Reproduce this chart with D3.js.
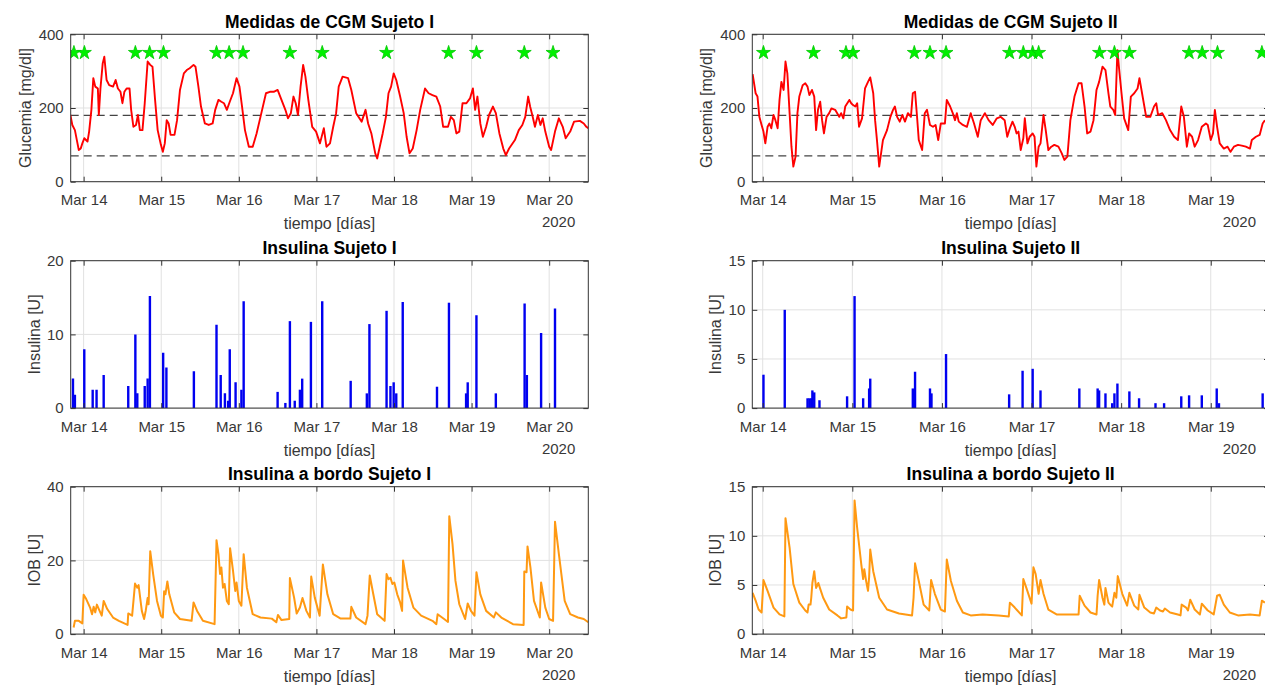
<!DOCTYPE html>
<html><head><meta charset="utf-8">
<script src="https://cdn.jsdelivr.net/npm/d3@7"></script>
<style>body{margin:0;background:#fff;overflow:hidden} text{font-family:"Liberation Sans",Arial,Helvetica,sans-serif;}</style>
</head><body><svg id="c" width="1265" height="686"></svg>
<script>
// ---- data: [hours since 2020-03-14 00:00, value] ----
const cgm1 = [[-4.1,181],[-3.5,154],[-2.7,140],[-2.1,113],[-1.5,86],[-0.9,90],[-0.4,104],[0.2,118],[1.2,109],[1.7,136],[2.4,195],[3.0,281],[3.6,258],[4.4,253],[4.7,181],[5.2,253],[5.9,321],[6.4,339],[7.1,276],[7.9,262],[9.1,258],[9.9,276],[10.6,253],[11.4,244],[12.0,213],[12.6,244],[13.3,253],[14.2,253],[14.7,195],[15.4,149],[16.2,154],[16.8,181],[17.4,140],[18.2,140],[18.9,213],[19.8,326],[20.6,317],[21.3,312],[22.1,222],[22.9,140],[23.9,100],[24.5,81],[25.1,104],[25.7,167],[26.3,158],[26.9,127],[28.1,127],[28.9,167],[29.8,249],[31.0,294],[31.9,303],[32.8,308],[34.0,317],[34.6,312],[35.5,258],[36.3,204],[37.5,158],[38.7,154],[39.9,158],[40.7,195],[41.7,222],[42.6,217],[43.4,213],[44.3,195],[45.2,217],[46.2,240],[47.3,281],[48.2,258],[49.0,204],[49.9,140],[51.1,95],[52.3,95],[53.5,131],[54.7,176],[56.4,240],[57.6,244],[58.8,244],[60.0,249],[61.2,222],[62.4,195],[63.2,172],[64.1,186],[64.9,231],[65.6,213],[66.3,181],[67.1,258],[67.9,317],[68.6,285],[69.5,222],[70.7,149],[71.9,136],[73.1,104],[74.3,145],[75.1,95],[76.2,104],[77.2,149],[78.1,186],[78.9,258],[80.1,285],[81.8,281],[82.8,249],[84.3,186],[86.0,163],[87.2,195],[88.0,158],[89.0,131],[90.2,77],[90.8,63],[91.6,95],[92.5,131],[93.5,176],[94.3,240],[95.1,258],[95.9,294],[96.7,276],[97.9,231],[99.0,186],[99.9,122],[100.8,77],[101.8,90],[103.0,140],[104.1,195],[105.6,253],[106.7,240],[107.9,235],[109.1,231],[110.3,204],[111.2,149],[112.7,149],[113.6,176],[114.5,167],[115.3,131],[116.2,136],[117.2,213],[118.4,213],[119.5,226],[120.4,253],[121.1,195],[121.8,231],[122.7,158],[123.5,122],[124.5,149],[125.4,181],[126.6,204],[127.5,186],[128.6,131],[129.8,90],[130.6,72],[131.6,90],[133.4,113],[134.6,140],[135.7,154],[136.6,176],[137.5,231],[138.1,204],[138.9,176],[139.6,149],[140.5,181],[141.3,154],[142.0,172],[142.8,136],[144.0,95],[144.6,86],[145.8,136],[147.0,172],[148.2,149],[149.1,118],[150.5,136],[151.7,163],[153.5,165],[154.7,158],[155.5,149],[156.1,145]];
const meals1 = [-3.0,0.24,16.0,20.4,24.7,41.1,45.0,49.3,63.8,73.8,93.7,112.9,121.5,136.3,145.2];
const ins1 = [[-3.3,4],[-2.7,1.8],[0.2,8],[2.8,2.5],[4.0,2.5],[6.2,4.5],[13.8,3],[16.0,10],[16.6,2],[18.9,3],[19.8,4],[20.5,15.2],[24.6,7.5],[25.6,5.5],[34.1,5],[41.1,11.3],[42.4,4.5],[43.7,2],[44.7,1],[45.2,8],[47.0,3.5],[48.8,2.5],[49.5,14.5],[60.0,2.2],[62.4,0.7],[63.8,11.8],[65.3,1],[66.9,2.5],[67.6,4],[70.3,11.7],[73.8,14.5],[82.6,3.7],[87.6,2],[88.4,11.4],[93.7,13.2],[94.9,3],[95.9,3.5],[96.7,2],[98.7,14.4],[109.3,2.9],[113.0,14.3],[118.3,2],[118.8,3.5],[121.5,12.6],[127.5,2],[136.4,14.2],[137.1,4.5],[141.5,10.2],[145.8,13.5]];
const iob1 = [[-3.1,1.8],[-2.7,3.6],[-1.5,3.6],[-0.4,2.9],[0,10.7],[0.8,9.5],[2.0,7.2],[2.6,5.4],[3.1,7.4],[3.6,5.9],[4.1,8],[4.7,6.8],[5.6,5.0],[6.2,9.0],[7.3,6.8],[9.1,4.5],[10.9,3.6],[13.6,2.5],[13.8,5.6],[15.0,5.0],[15.9,13.7],[16.6,12.6],[17.0,13.3],[18.0,6.3],[18.7,4.1],[19.2,6.3],[19.8,9.8],[20.1,8.1],[20.6,22.5],[21.5,16.3],[22.7,9.0],[23.9,5.0],[24.5,4.5],[24.9,11.6],[25.3,10.8],[25.9,14.3],[26.5,10.8],[28.0,5.9],[29.8,4.1],[33.4,3.6],[34.0,8.6],[35.1,6.3],[36.9,3.6],[40.5,2.7],[41.1,25.5],[41.7,21.7],[42.2,16.3],[42.6,18.1],[43.1,12.6],[43.6,13.6],[44.3,9.0],[44.9,8.1],[45.3,23.3],[46.2,17.2],[46.9,11.7],[47.3,14.0],[48.0,9.0],[48.8,7.7],[49.5,21.7],[50.5,12.6],[52.3,5.4],[54.7,4.5],[58.2,4.2],[59.6,3.2],[60.1,5.2],[61.2,3.8],[63.6,4.1],[63.8,15.2],[65.1,9.9],[65.9,5.6],[66.9,7.2],[67.7,9.8],[68.9,6.3],[70.0,4.5],[70.4,15.6],[71.5,9.9],[73.0,5.0],[74.0,18.9],[75.4,10.8],[77.2,5.4],[79.5,4.2],[82.5,4.2],[82.8,7.4],[84.3,4.5],[87.2,2.7],[87.8,5.0],[88.5,15.9],[89.6,10.8],[90.8,5.4],[93.1,3.6],[93.7,16.3],[94.3,14.9],[94.9,15.3],[95.5,13.6],[96.1,14],[97.0,10.8],[97.9,8.6],[98.5,6.3],[98.8,20],[100.2,12.6],[102.0,7.2],[104.4,5.0],[107.9,3.6],[109.1,2.7],[109.5,5.4],[111.5,4.1],[112.7,3.3],[113.1,32],[114.1,24.4],[115.0,14.5],[116.2,8.1],[118.0,4.1],[118.8,8.3],[119.8,6.3],[120.9,5.0],[121.5,16.8],[122.7,10.8],[124.5,6.3],[126.9,4.5],[127.5,5.9],[129.2,4.5],[132.8,2.7],[136.1,2.5],[136.3,17],[137.0,16.8],[137.3,23.8],[138.2,18.1],[139.3,9.0],[141.1,4.5],[141.5,14.0],[142.8,7.2],[144.0,4.1],[145.2,3.6],[145.8,30.5],[147.0,21.7],[148.8,9.0],[150.5,5.4],[152.9,4.5],[154.7,4.1],[156.1,3.2]];

const cgm2 = [[-2.7,292],[-1.9,240],[-1.4,231],[-0.9,176],[-0.3,154],[0.2,136],[0.7,104],[1.3,149],[1.8,158],[2.3,145],[2.9,181],[3.4,167],[4.0,145],[4.5,222],[5.0,271],[5.6,249],[6.1,326],[6.6,294],[7.2,186],[7.7,95],[8.2,41],[8.8,68],[9.3,186],[9.8,231],[10.7,262],[11.4,267],[12.0,258],[12.5,235],[13.2,249],[13.8,231],[14.3,140],[14.8,195],[15.4,217],[15.9,167],[16.4,131],[17.1,176],[17.8,186],[18.4,199],[19.4,195],[20.5,176],[21.0,186],[21.6,172],[22.1,204],[23.2,222],[23.7,213],[24.2,208],[24.8,204],[25.3,213],[25.8,149],[26.6,172],[27.4,253],[28.2,271],[28.8,283],[29.6,240],[30.1,167],[30.6,113],[31.2,41],[31.7,77],[32.2,113],[33.3,140],[34.2,176],[34.9,195],[35.4,204],[36.0,176],[36.7,163],[37.4,181],[38.1,163],[38.9,186],[39.7,176],[40.2,240],[40.8,244],[41.3,181],[41.8,113],[42.7,86],[43.4,186],[44.0,195],[44.8,154],[45.6,149],[46.3,154],[47.0,113],[47.7,158],[48.8,158],[49.3,222],[50.2,204],[50.9,186],[51.5,167],[52.0,186],[52.5,163],[53.6,154],[54.7,149],[55.7,186],[56.6,158],[57.6,122],[58.4,167],[59.5,186],[60.5,167],[61.6,154],[62.7,172],[63.7,176],[64.8,167],[65.5,122],[66.2,145],[66.9,163],[67.5,149],[68.0,131],[68.5,136],[69.1,86],[69.8,118],[70.2,172],[70.9,104],[71.5,122],[72.3,131],[72.8,122],[73.3,41],[73.9,95],[74.4,104],[75.2,181],[75.8,140],[76.5,86],[77.3,95],[78.1,100],[79.2,95],[80.1,77],[80.8,59],[81.6,68],[82.4,167],[83.5,231],[84.6,267],[85.4,267],[86.2,204],[86.9,131],[87.8,136],[88.6,167],[89.4,249],[90.1,271],[91.0,312],[91.8,303],[92.6,240],[93.1,204],[93.9,195],[94.4,181],[95.0,357],[95.4,312],[96.1,240],[96.8,172],[97.9,140],[98.6,231],[99.5,240],[100.4,253],[100.9,281],[101.6,240],[102.7,176],[103.8,176],[104.8,204],[105.4,213],[105.9,181],[107.0,186],[108.0,167],[109.1,140],[110.2,122],[111.2,113],[112.1,204],[112.8,176],[113.6,95],[114.2,131],[115.0,122],[115.7,95],[116.6,113],[117.6,149],[118.7,158],[119.2,154],[120.0,113],[120.6,131],[121.1,195],[121.7,149],[122.4,104],[123.5,90],[124.5,95],[125.3,81],[126.2,95],[127.3,100],[128.3,98],[129.4,95],[130.5,90],[131.0,113],[132.1,122],[133.1,127],[133.9,158],[134.5,167]];
const meals2 = [0.2,13.6,22.3,24.2,40.6,44.8,49.1,66.1,69.8,72.3,73.9,90.2,94.2,98.2,114.2,117.7,121.8,133.7];
const ins2 = [[0.2,3.4],[5.9,10],[12.0,1],[12.5,1],[13.0,1],[13.3,1.8],[13.8,1.6],[15.2,0.8],[22.6,1.2],[24.6,11.4],[26.9,1],[28.5,2],[28.8,3],[40.2,2],[40.8,3.7],[44.8,2],[45.2,1.5],[49.1,5.5],[66.0,1.4],[69.6,3.8],[72.3,4],[74.4,1.8],[84.8,2],[89.7,2],[90.1,1.8],[91.8,1.5],[93.6,0.5],[94.2,1.5],[95.0,2.5],[98.2,1.7],[100.8,1],[105.2,0.5],[107.5,0.5],[112.1,1.2],[114.2,1.3],[117.6,1.3],[121.6,2],[122.2,0.5],[133.9,1.5]];
const iob2 = [[-2.7,4.2],[-1.9,3.4],[-1.1,2.5],[-0.3,2.2],[0.2,5.5],[1.3,4.4],[2.9,2.7],[4.5,2.0],[5.8,1.8],[6.1,11.8],[7.2,8.8],[8.2,5.1],[9.8,3.2],[11.4,2.4],[12.0,2.2],[12.3,3.0],[12.8,3.0],[13.0,3.7],[13.3,5.2],[13.8,6.4],[14.3,4.7],[14.9,5.2],[15.4,4.6],[16.2,3.7],[17.8,2.5],[20.0,1.9],[21.0,1.6],[22.4,1.7],[22.6,2.8],[23.5,2.5],[24.2,2.4],[24.6,13.6],[25.3,10.8],[26.4,7.1],[26.9,5.6],[27.2,6.6],[27.7,5.4],[28.2,4.4],[28.5,5.8],[28.8,8.6],[29.6,6.4],[31.2,3.7],[33.3,2.5],[36.5,2.1],[40.0,1.9],[40.4,3.7],[40.8,7.2],[41.8,5.4],[43.1,3.0],[44.6,2.4],[45.1,5.5],[46.1,4.1],[47.7,2.5],[48.8,2.3],[49.3,7.6],[50.4,5.4],[52.0,3.4],[53.6,2.2],[55.7,1.9],[58.9,2.0],[63.2,1.9],[65.9,1.8],[66.2,3.2],[67.5,2.7],[69.4,1.9],[69.8,5.6],[70.7,4.6],[72.0,3.1],[72.5,6.8],[73.1,6.1],[73.9,4.1],[74.4,5.5],[75.2,4.1],[76.5,2.5],[78.7,2.0],[82.4,2.0],[84.6,2.0],[84.9,3.9],[86.2,2.9],[87.8,2.2],[89.4,2.0],[89.7,3.9],[90.1,5.5],[91.0,3.7],[91.5,3.0],[91.8,4.7],[92.6,3.2],[93.3,2.9],[93.6,2.8],[94.2,4.2],[94.7,3.7],[95.1,5.9],[96.3,4.1],[97.6,2.9],[98.2,4.2],[99.5,2.9],[100.6,2.5],[100.9,4.0],[102.2,2.7],[103.8,2.2],[104.8,2.1],[105.4,2.7],[106.4,2.4],[107.2,2.3],[107.7,2.6],[109.1,2.2],[111.2,2.0],[111.9,1.9],[112.2,3.0],[113.4,2.7],[113.9,2.4],[114.5,3.5],[115.7,2.5],[117.1,2.0],[117.6,3.1],[119.2,2.4],[120.8,2.0],[121.7,3.9],[122.4,4.0],[123.5,3.0],[125.1,2.2],[127.3,1.9],[130.5,2.0],[133.1,1.9],[133.7,3.4],[134.5,3.2]];

const glucoseLimits = [180, 70];
const mealMarkerLevel = 350;
const yTicksCGM = [0,200,400];
const yTicksIns1 = [0,10,20];
const yTicksIns2 = [0,5,10,15];
const yTicksIob1 = [0,20,40];
const yTicksIob2 = [0,5,10,15];
const titles = [["Medidas de CGM Sujeto I","Medidas de CGM Sujeto II"],["Insulina Sujeto I","Insulina Sujeto II"],["Insulina a bordo Sujeto I","Insulina a bordo Sujeto II"]];
const yLabels = ["Glucemia [mg/dl]","Insulina [U]","IOB [U]"];
const xLabel = "tiempo [días]";
const yearLabel = "2020";

// ---- layout ----
const svg = d3.select("#c");
const base = Date.UTC(2020,2,14);
const toDate = h => new Date(base + h*3600000);
const cols = [{x0:70.7,x1:588.3,dom:[-4.0,156.1]},{x0:752.3,x1:1269,dom:[-2.79,135.6]}];
const rowTops = [34.3,260.7,486.7];
const H = 147.4;
const axisCol = "#333";
const fmt = d3.utcFormat("%b %d");
let clipId = 0;

function panel(ci, ri, ymax, yticks, draw, labelOff) {
  const c = cols[ci], top = rowTops[ri], bot = top + H;
  const x = d3.scaleUtc().domain([toDate(c.dom[0]), toDate(c.dom[1])]).range([c.x0, c.x1]);
  const y = d3.scaleLinear().domain([0, ymax]).range([bot, top]);
  const days = d3.utcDay.range(d3.utcDay.ceil(toDate(c.dom[0])), toDate(c.dom[1]));
  const g = svg.append("g");
  g.append("g").selectAll("line.v").data(days).join("line")
    .attr("x1", d=>x(d)).attr("x2", d=>x(d)).attr("y1", top).attr("y2", bot)
    .attr("stroke", "#e1e1e1").attr("stroke-width", 1);
  g.append("g").selectAll("line.h").data(yticks).join("line")
    .attr("x1", c.x0).attr("x2", c.x1).attr("y1", d=>y(d)).attr("y2", d=>y(d))
    .attr("stroke", "#e1e1e1").attr("stroke-width", 1);
  const id = "clip" + (clipId++);
  svg.append("clipPath").attr("id", id).append("rect")
    .attr("x", c.x0).attr("y", top - 8).attr("width", c.x1 - c.x0).attr("height", H + 8);
  const dg = g.append("g").attr("clip-path", `url(#${id})`);
  draw(dg, x, y, c);
  const ax = g.append("g").attr("transform", `translate(0,${bot})`)
    .call(d3.axisBottom(x).tickValues(days).tickFormat(fmt).tickSizeInner(-5).tickSizeOuter(0).tickPadding(13));
  const axT = g.append("g").attr("transform", `translate(0,${top})`)
    .call(d3.axisTop(x).tickValues(days).tickFormat("").tickSizeInner(-5).tickSizeOuter(0));
  const ay = g.append("g").attr("transform", `translate(${c.x0},0)`)
    .call(d3.axisLeft(y).tickValues(yticks).tickSizeInner(-5).tickSizeOuter(0).tickPadding(7));
  const ayR = g.append("g").attr("transform", `translate(${c.x1},0)`)
    .call(d3.axisRight(y).tickValues(yticks).tickFormat("").tickSizeInner(-5).tickSizeOuter(0));
  [ax, axT, ay, ayR].forEach(a => {
    a.select(".domain").remove();
    a.selectAll("line").attr("stroke", axisCol);
    a.selectAll("text").attr("fill", "#383838").style("font-size", "15px").style("font-family", '"Liberation Sans",Arial,sans-serif');
  });
  g.append("rect").attr("x", c.x0).attr("y", top).attr("width", c.x1 - c.x0).attr("height", H)
    .attr("fill", "none").attr("stroke", axisCol).attr("stroke-width", 1);
  g.append("text").attr("x", (c.x0 + c.x1)/2).attr("y", top - 6.5).attr("text-anchor", "middle")
    .style("font-size", "17.5px").style("font-weight", "bold").attr("fill", "#000").text(titles[ri][ci]);
  g.append("text").attr("x", (c.x0 + c.x1)/2).attr("y", bot + 47.5).attr("text-anchor", "middle")
    .style("font-size", "16px").attr("fill", "#383838").text(xLabel);
  g.append("text").attr("x", c.x1 - 13).attr("y", bot + 45.5).attr("text-anchor", "end")
    .style("font-size", "15px").attr("fill", "#383838").text(yearLabel);
  g.append("text").attr("transform", `translate(${c.x0 - labelOff},${(top + bot)/2}) rotate(-90)`)
    .attr("text-anchor", "middle").style("font-size", "16px").attr("fill", "#383838").text(yLabels[ri]);
}

function drawCGM(series, meals) {
  return (g, x, y, c) => {
    g.selectAll("line.lim").data(glucoseLimits).join("line")
      .attr("x1", c.x0).attr("x2", c.x1).attr("y1", d=>y(d)).attr("y2", d=>y(d))
      .attr("stroke", "#444").attr("stroke-width", 1.3).attr("stroke-dasharray", "8,5");
    g.append("path").datum(series)
      .attr("d", d3.line().x(d=>x(toDate(d[0]))).y(d=>y(d[1])))
      .attr("fill", "none").attr("stroke", "#ff0000").attr("stroke-width", 1.9).attr("stroke-linejoin", "round");
    g.selectAll("path.star").data(meals).join("path")
      .attr("transform", d=>`translate(${x(toDate(d))},${y(mealMarkerLevel)})`)
      .attr("d", d3.symbol(d3.symbolStar, 60)())
      .attr("fill", "#00f000").attr("stroke", "#00c800").attr("stroke-width", 0.8);
  };
}
function drawStems(series) {
  return (g, x, y) => {
    g.selectAll("line.stem").data(series).join("line")
      .attr("x1", d=>x(toDate(d[0]))).attr("x2", d=>x(toDate(d[0])))
      .attr("y1", y(0)).attr("y2", d=>y(d[1]))
      .attr("stroke", "#0000f0").attr("stroke-width", 2.4);
  };
}
function drawIOB(series) {
  return (g, x, y) => {
    g.append("path").datum(series)
      .attr("d", d3.line().x(d=>x(toDate(d[0]))).y(d=>y(d[1])))
      .attr("fill", "none").attr("stroke", "#ff9912").attr("stroke-width", 2).attr("stroke-linejoin", "round");
  };
}

panel(0, 0, 400, yTicksCGM, drawCGM(cgm1, meals1), 40);
panel(1, 0, 400, yTicksCGM, drawCGM(cgm2, meals2), 40);
panel(0, 1, 20, yTicksIns1, drawStems(ins1), 31);
panel(1, 1, 15, yTicksIns2, drawStems(ins2), 31);
panel(0, 2, 40, yTicksIob1, drawIOB(iob1), 31);
panel(1, 2, 15, yTicksIob2, drawIOB(iob2), 31);
</script></body></html>
